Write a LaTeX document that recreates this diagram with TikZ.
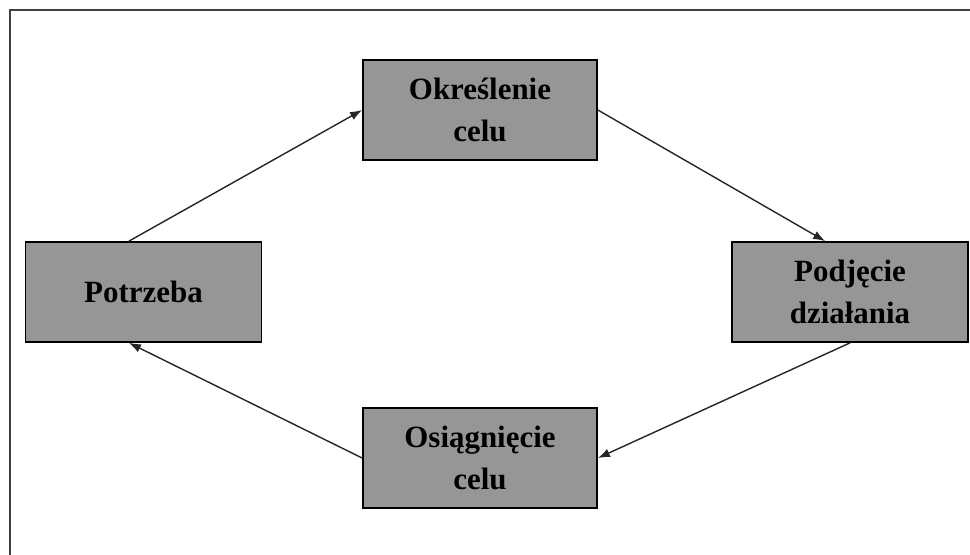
\documentclass[tikz,border=0pt]{standalone}
\usepackage{fontspec}
\setmainfont{Liberation Serif}
\usetikzlibrary{arrows.meta,positioning}

\begin{document}
\begin{tikzpicture}[
    x=0.025cm, y=-0.025cm,
    stage/.style={rectangle, draw=black, line width=1.2pt, fill=black!41, minimum width=5.85cm, minimum height=2.5cm, align=center, font=\fontsize{22}{30}\selectfont\bfseries},
    arrow/.style={-{Latex[length=3mm, width=2.2mm]}, line width=1pt, draw=black!85},
    frame/.style={draw=black!75, line width=1.5pt}
]
\useasboundingbox (0,0) rectangle (970,554);

% Frame
\draw[frame] (10,560) -- (10,10) -- (975,10);

% Stages
\node[stage] (okr) at (480,110) {Określenie\\celu};
\node[stage, minimum width=5.9cm] (pod) at (850,292) {Podjęcie\\działania};
\node[stage] (osi) at (480,458) {Osiągnięcie\\celu};
\node[stage, minimum width=5.9cm] (pot) at (143.5,292) {Potrzeba};

% Arrows
\draw[arrow] (pot.106) -- (okr.west);
\draw[arrow] (okr.east) -- (pod.116);
\draw[arrow] (pod.south) -- (osi.east);
\draw[arrow] (osi.west) -- (pot.-106);

\end{tikzpicture}
\end{document}
